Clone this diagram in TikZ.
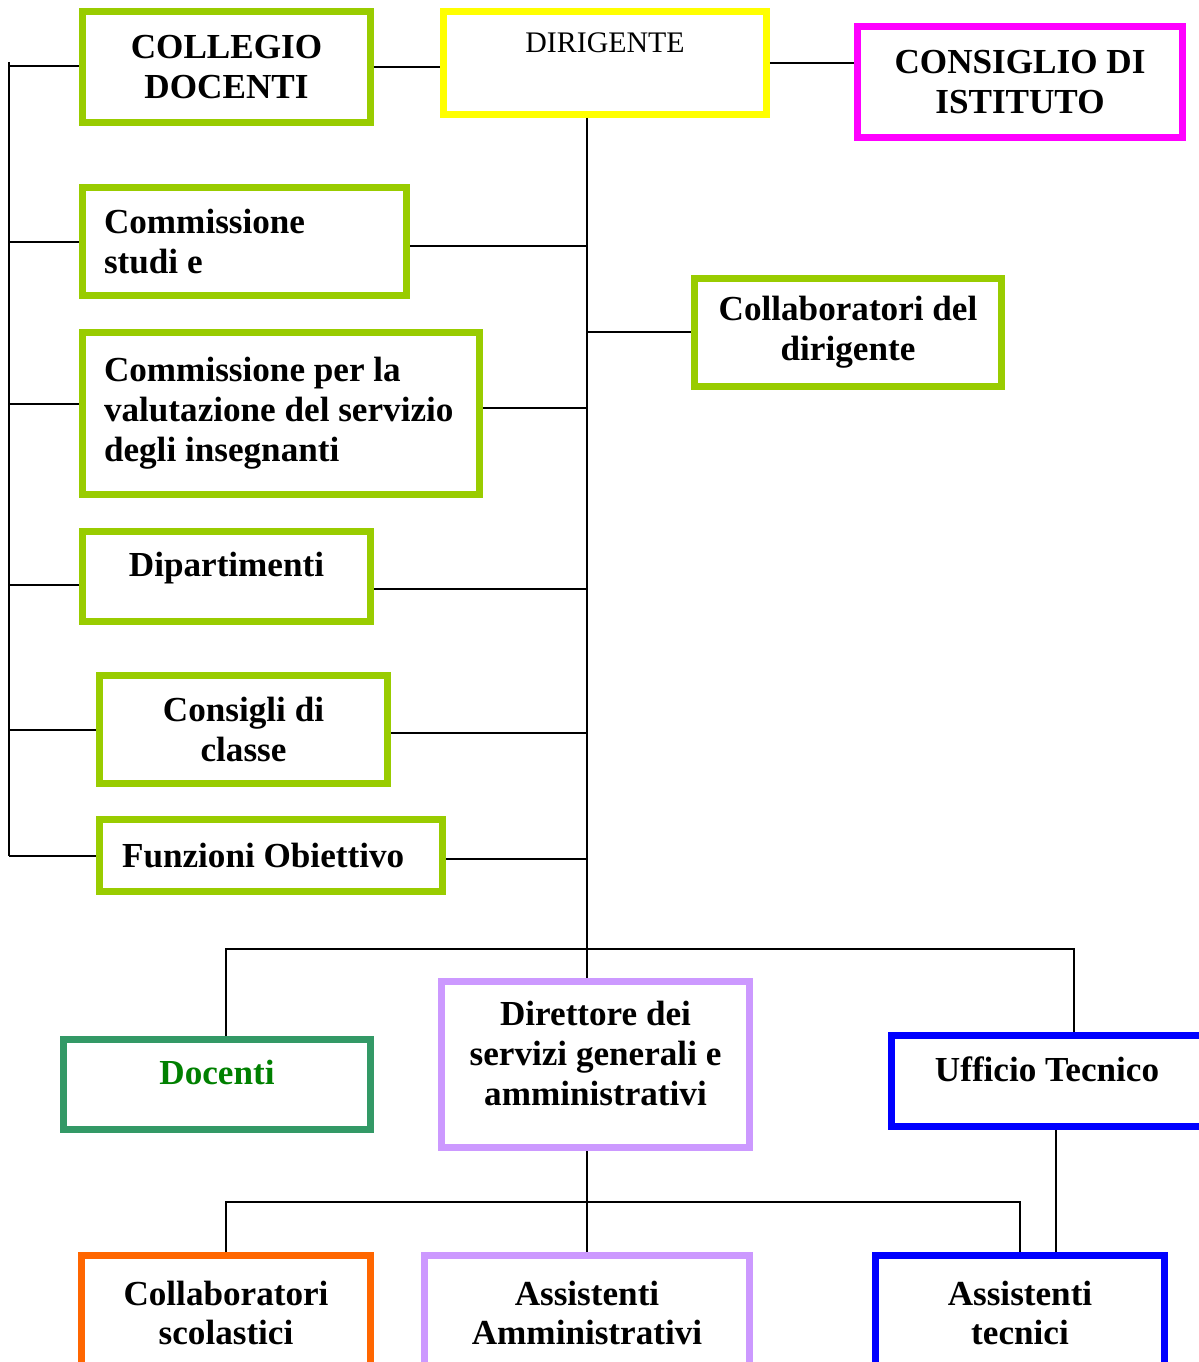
\documentclass[tikz,border=0pt]{standalone}
\usepackage{fontspec}
\setmainfont{Liberation Serif}
\definecolor{cgreen}{HTML}{99CC00}
\definecolor{cyellow}{HTML}{FFFF00}
\definecolor{cmagenta}{HTML}{FF00FF}
\definecolor{cteal}{HTML}{339966}
\definecolor{cdocgreen}{HTML}{008000}
\definecolor{clilac}{HTML}{CC99FF}
\definecolor{cblue}{HTML}{0000FF}
\definecolor{corange}{HTML}{FF6600}

\begin{document}
\begin{tikzpicture}[x = 0.02cm, y = -0.02cm,
    box/.style = {draw = #1, line width = 0.14cm, fill = white, inner sep = 0pt, align = center,
                  font = \fontsize{20}{22.7}\selectfont\bfseries},
    link/.style = {line width = 1pt}]
  \useasboundingbox (0,0) rectangle (1198,1362);

  % vertici
  \node[box = cgreen, minimum width = 5.76cm, minimum height = 2.22cm] (collegio) at (226.5,67) {COLLEGIO\\DOCENTI};
  \node[box = cyellow, minimum width = 6.46cm, minimum height = 2.06cm, font = \fontsize{17}{20}\selectfont,
        text height = 12pt, text depth = 24.5pt] (dirigente) at (605,63) {DIRIGENTE};
  \node[box = cmagenta, minimum width = 6.5cm, minimum height = 2.22cm] (consiglio) at (1020,82) {CONSIGLIO DI\\ISTITUTO};

  % organi collegiali
  \node[box = cgreen, align = flush left, text width = 5.62cm, inner xsep = 0.43cm, minimum height = 2.16cm] (studi) at (244.5,241.5) {Commissione\\studi e};
  \node[box = cgreen, minimum width = 6.14cm, minimum height = 2.16cm] (collab) at (848,332.5) {Collaboratori del\\dirigente};
  \node[box = cgreen, align = flush left, text width = 7.08cm, inner xsep = 0.43cm, minimum height = 3.24cm] (valut) at (281,413.5) {Commissione per la\\valutazione del servizio\\degli insegnanti};
  \node[box = cgreen, minimum width = 5.76cm, minimum height = 1.8cm, text height = 14pt, text depth = 14pt] (dipart) at (226.5,576.5) {Dipartimenti};
  \node[box = cgreen, minimum width = 5.76cm, minimum height = 2.16cm] (consigli) at (243.5,729.5) {Consigli di\\classe};
  \node[box = cgreen, align = flush left, text width = 5.96cm, inner xsep = 0.45cm, minimum height = 1.44cm] (funzioni) at (271,855.5) {Funzioni Obiettivo};

  % personale
  \node[box = cteal, text = cdocgreen, minimum width = 6.14cm, minimum height = 1.8cm, text height = 14pt, text depth = 14pt] (docenti) at (217,1084.5) {Docenti};
  \node[box = clilac, minimum width = 6.16cm, minimum height = 3.32cm, text depth = 13pt] (dsga) at (595.5,1064.5) {Direttore dei\\servizi generali e\\amministrativi};
  \node[box = cblue, minimum width = 6.22cm, minimum height = 1.82cm, text height = 14pt, text depth = 14pt] (ufficio) at (1047,1081) {Ufficio Tecnico};
  \node[box = corange, minimum width = 5.78cm, minimum height = 2.3cm] (scolastici) at (226,1313) {Collaboratori\\scolastici};
  \node[box = clilac, minimum width = 6.5cm, minimum height = 2.3cm] (amminis) at (587,1313) {Assistenti\\Amministrativi};
  \node[box = cblue, minimum width = 5.78cm, minimum height = 2.3cm] (tecnici) at (1020,1313) {Assistenti\\tecnici};

  % collegamenti
  \draw[link] (collegio.east) -- (collegio.east -| dirigente.west);
  \draw[link] (dirigente.east) -- (dirigente.east -| consiglio.west);

  \coordinate (ltop) at (9,62);
  \coordinate (lbot) at (9,856);
  \draw[link] (ltop) -- (lbot);
  \foreach \n/\y in {collegio/66, studi/242, valut/404, dipart/585, consigli/730, funzioni/856} {
    \coordinate (l-\n) at (9,\y);
    \draw[link] (l-\n) -- (l-\n -| \n.west);
  }

  \foreach \n/\y in {studi/246, valut/408, dipart/589, consigli/733, funzioni/859} {
    \coordinate (r-\n) at (587,\y);
    \draw[link] (r-\n) -- (r-\n -| \n.east);
  }
  \coordinate (r-collab) at (587,332);
  \draw[link] (r-collab) -- (r-collab -| collab.west);
  \draw[link] (dirigente.south -| r-studi) -- (dsga.north -| r-studi);

  \coordinate (busl) at (226,949);
  \coordinate (busr) at (1074,949);
  \draw[link] (docenti.north -| busl) |- (busr) -- (ufficio.north -| busr);

  \coordinate (bus2) at (587,1202);
  \draw[link] (scolastici.north) |- (tecnici.north |- bus2) -- (tecnici.north);
  \draw[link] (amminis.north) -- (amminis.north |- dsga.south);
  \draw[link] ([xshift = 0.18cm]ufficio.south) -- ([xshift = 0.18cm]ufficio.south |- tecnici.north);
\end{tikzpicture}
\end{document}
